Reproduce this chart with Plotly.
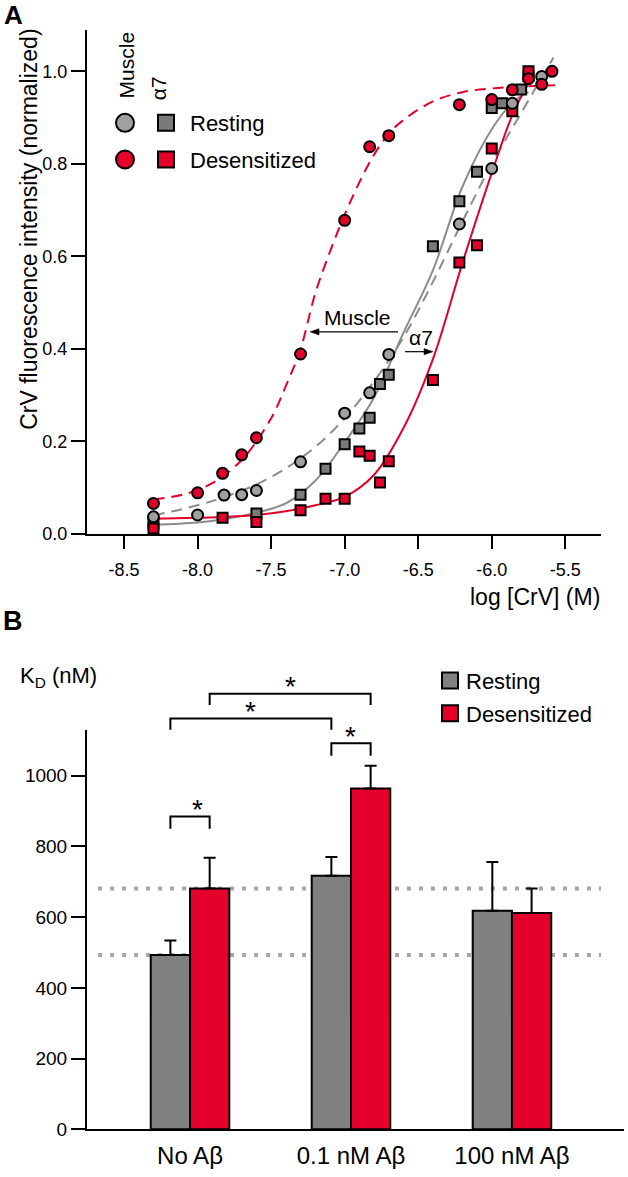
import plotly.graph_objects as go

# ---------- panel A data (log [CrV] in M, normalized fluorescence) ----------
muscle_rest_x = [-8.3, -8.0, -7.82, -7.7, -7.6, -7.3, -7.0, -6.83, -6.7, -6.22, -6.0, -5.86, -5.66]
muscle_rest_y = [0.037, 0.041, 0.084, 0.085, 0.094, 0.156, 0.261, 0.305, 0.388, 0.670, 0.790, 0.931, 0.989]

muscle_des_x = [-8.3, -8.0, -7.83, -7.7, -7.6, -7.3, -7.0, -6.83, -6.7, -6.22, -6.0, -5.86, -5.75, -5.66, -5.59]
muscle_des_y = [0.066, 0.089, 0.131, 0.171, 0.208, 0.389, 0.678, 0.837, 0.861, 0.928, 0.939, 0.960, 0.984, 0.972, 1.0]

a7_rest_x = [-8.3, -7.6, -7.3, -7.13, -7.0, -6.9, -6.83, -6.76, -6.7, -6.4, -6.22, -6.1, -6.0, -5.93, -5.8, -5.75]
a7_rest_y = [0.022, 0.044, 0.085, 0.141, 0.194, 0.228, 0.251, 0.324, 0.344, 0.622, 0.719, 0.783, 0.921, 0.931, 0.961, 0.99]

a7_des_x = [-8.3, -7.83, -7.6, -7.3, -7.13, -7.0, -6.9, -6.83, -6.76, -6.7, -6.4, -6.22, -6.1, -6.0, -5.86, -5.75]
a7_des_y = [0.012, 0.035, 0.026, 0.051, 0.076, 0.076, 0.178, 0.169, 0.111, 0.157, 0.333, 0.587, 0.624, 0.833, 0.914, 1.0]

# fitted curves
fit_mus_des_x = [-8.3, -8.1, -7.9, -7.7, -7.5, -7.4, -7.3, -7.2, -7.1, -7.0, -6.9, -6.8, -6.7, -6.6, -6.4, -6.2, -6.0, -5.8, -5.57]
fit_mus_des_y = [0.075, 0.085, 0.11, 0.16, 0.25, 0.32, 0.40, 0.52, 0.61, 0.69, 0.76, 0.82, 0.865, 0.895, 0.935, 0.955, 0.963, 0.967, 0.97]

fit_mus_rest_x = [-8.3, -8.0, -7.8, -7.6, -7.4, -7.2, -7.0, -6.8, -6.6, -6.4, -6.2, -6.0, -5.8, -5.58]
fit_mus_rest_y = [0.04, 0.062, 0.082, 0.107, 0.142, 0.188, 0.25, 0.33, 0.425, 0.545, 0.675, 0.80, 0.91, 1.03]

fit_a7_rest_x = [-8.3, -8.0, -7.8, -7.6, -7.4, -7.2, -7.0, -6.8, -6.6, -6.4, -6.2, -6.0, -5.85, -5.75]
fit_a7_rest_y = [0.02, 0.025, 0.033, 0.046, 0.066, 0.115, 0.198, 0.295, 0.435, 0.57, 0.75, 0.875, 0.935, 0.955]

fit_a7_des_x = [-8.3, -8.0, -7.8, -7.6, -7.4, -7.2, -7.0, -6.8, -6.6, -6.4, -6.2, -6.0, -5.85, -5.72]
fit_a7_des_y = [0.033, 0.035, 0.037, 0.041, 0.049, 0.062, 0.08, 0.128, 0.229, 0.378, 0.585, 0.78, 0.913, 0.99]

x_ticks_a = [-8.5, -8.0, -7.5, -7.0, -6.5, -6.0, -5.5]
y_ticks_a = [0.0, 0.2, 0.4, 0.6, 0.8, 1.0]

# ---------- panel B data (KD, nM) ----------
conditions = ["No Aβ", "0.1 nM Aβ", "100 nM Aβ"]
kd_rest = [493, 717, 618]
kd_rest_err = [41, 53, 138]
kd_des = [681, 964, 612]
kd_des_err = [87, 64, 69]
y_ticks_b = [0, 200, 400, 600, 800, 1000]

RED = "#E4002B"
GREY_LINE = "#8c8c8c"
GREY_CIRCLE = "#a0a0a0"
GREY_SQUARE = "#7a7a7a"
GREY_BAR = "#808080"
FONT = "Arial, Liberation Sans, sans-serif"

W, H = 628, 1177

# panel B geometry (pixels) and axis ranges
B_LEFT, B_RIGHT, B_BOTTOM, B_TOP = 87, 624, 1140, 736.7
B_XR = [-0.64, 2.696]
B_YR = [0, 1130]


def px(x):
    return x / W


def py(y):
    return 1 - y / H


def bx(v):
    return B_LEFT + (v - B_XR[0]) / (B_XR[1] - B_XR[0]) * (B_RIGHT - B_LEFT)


def by(v):
    return B_BOTTOM - (v - B_YR[0]) / (B_YR[1] - B_YR[0]) * (B_BOTTOM - B_TOP)


fig = go.Figure()

# fit curves
for xs, ys, col, dash in [
    (fit_mus_des_x, fit_mus_des_y, RED, "11px,7px"),
    (fit_mus_rest_x, fit_mus_rest_y, GREY_LINE, "11px,7px"),
    (fit_a7_rest_x, fit_a7_rest_y, GREY_LINE, "solid"),
    (fit_a7_des_x, fit_a7_des_y, RED, "solid"),
]:
    fig.add_trace(go.Scatter(x=xs, y=ys, mode="lines", line=dict(color=col, width=2, dash=dash, shape="spline"),
                             showlegend=False, hoverinfo="skip", xaxis="x", yaxis="y"))

# data points
for xs, ys, sym, fill, size in [
    (a7_rest_x, a7_rest_y, "square", GREY_SQUARE, 10),
    (a7_des_x, a7_des_y, "square", RED, 10),
    (muscle_rest_x, muscle_rest_y, "circle", GREY_CIRCLE, 11),
    (muscle_des_x, muscle_des_y, "circle", RED, 11),
]:
    fig.add_trace(go.Scatter(x=xs, y=ys, mode="markers",
                             marker=dict(symbol=sym, size=size, color=fill, line=dict(color="black", width=2)),
                             showlegend=False, xaxis="x", yaxis="y"))

# dotted reference lines (baseline KD values, No Abeta)
shapes = []
for ref in [kd_rest[0], kd_des[0]]:
    for x0, x1 in [(-0.571, 0.72), (1.273, 2.553)]:
        shapes.append(dict(type="line", xref="x2", yref="y2", x0=x0, x1=x1, y0=ref, y1=ref, layer="below",
                           line=dict(color="#a6a6a6", width=4, dash="4px,8px")))

# bars
fig.add_trace(go.Bar(x=[0, 1, 2], y=kd_rest, name="Resting", marker=dict(color=GREY_BAR, line=dict(color="black", width=2)),
                     error_y=dict(type="data", symmetric=False, array=kd_rest_err, arrayminus=[0, 0, 0],
                                  color="black", thickness=2, width=6),
                     showlegend=False, xaxis="x2", yaxis="y2"))
fig.add_trace(go.Bar(x=[0, 1, 2], y=kd_des, name="Desensitized", marker=dict(color=RED, line=dict(color="black", width=2)),
                     error_y=dict(type="data", symmetric=False, array=kd_des_err, arrayminus=[0, 0, 0],
                                  color="black", thickness=2, width=6),
                     showlegend=False, xaxis="x2", yaxis="y2"))

bargap = 0.512
off = (1 - bargap) / 4

# significance brackets: (left bar x, right bar x, top level, foot level), in panel B units
brackets = [
    (0 + off, 1 + off, 1232, 1200),
    (0 - off, 1 - off, 1162, 1130),
    (1 - off, 1 + off, 1092, 1057),
    (0 - off, 0 + off, 885, 850),
]
annotations = []
for xa, xb, top, foot in brackets:
    xa_p, xb_p = px(bx(xa)), px(bx(xb))
    top_p, foot_p = py(by(top)), py(by(foot))
    shapes.append(dict(type="path", xref="paper", yref="paper",
                       path=f"M {xa_p},{foot_p} L {xa_p},{top_p} L {xb_p},{top_p} L {xb_p},{foot_p}",
                       line=dict(color="black", width=2)))
    annotations.append(dict(x=(xa_p + xb_p) / 2, y=py(by(top) - 7), xref="paper", yref="paper", text="*",
                            showarrow=False, yanchor="middle",
                            font=dict(size=28, color="black", family=FONT)))


# legend glyphs
def glyph(kind, cx, cy, d, fill):
    shapes.append(dict(type=kind, xref="paper", yref="paper", xsizemode="pixel", ysizemode="pixel",
                       xanchor=px(cx), yanchor=py(cy), x0=-d / 2, x1=d / 2, y0=-d / 2, y1=d / 2,
                       fillcolor=fill, line=dict(color="black", width=2), layer="above"))


glyph("circle", 125, 124, 18, GREY_CIRCLE)
glyph("rect", 166, 124, 16, GREY_SQUARE)
glyph("circle", 125, 161, 18, RED)
glyph("rect", 166, 161, 16, RED)
glyph("rect", 450, 687, 16, GREY_BAR)
glyph("rect", 450, 720, 16, RED)


# arrows next to the curves (pixels: tail x, tip x, y)
def arrow(x_tail, x_tip, y):
    d = 1 if x_tip > x_tail else -1
    base = x_tip - d * 9
    shapes.append(dict(type="line", xref="paper", yref="paper", x0=px(x_tail), x1=px(base), y0=py(y), y1=py(y),
                       line=dict(color="black", width=1.2)))
    shapes.append(dict(type="path", xref="paper", yref="paper",
                       path=f"M {px(x_tip)},{py(y)} L {px(base)},{py(y - 3.2)} L {px(base)},{py(y + 3.2)} Z",
                       fillcolor="black", line=dict(color="black", width=0.5)))


arrow(398, 310, 335)
arrow(405, 433, 355)


def label(text, x, y, size, xanchor="center", angle=0):
    annotations.append(dict(text=text, x=px(x), y=py(y), xref="paper", yref="paper", showarrow=False,
                            xanchor=xanchor, yanchor="middle", textangle=angle,
                            font=dict(size=size, color="black", family=FONT)))


label("<b>A</b>", 13, 15, 26)
label("<b>B</b>", 13, 627, 27)
label("Muscle", 126, 66, 21, angle=-90)
label("α7", 158, 89, 21, angle=-90)
label("Resting", 188, 125, 22, xanchor="left")
label("Desensitized", 188, 162, 22, xanchor="left")
label("CrV fluorescence intensity (normalized)", 29, 232, 23, angle=-90)
label("log [CrV] (M)", 602, 603, 23, xanchor="right")
label("K<sub>D</sub> (nM)", 18, 683, 22, xanchor="left")
label("Resting", 464, 688, 22, xanchor="left")
label("Desensitized", 464, 721, 22, xanchor="left")
label("Muscle", 357, 320, 21)
label("α7", 421, 341, 21)

axis_style = dict(showline=True, linecolor="black", linewidth=2, showgrid=False, zeroline=False,
                  ticks="outside", tickcolor="black", tickwidth=2)

fig.update_layout(
    width=W, height=H, autosize=False,
    margin=dict(l=0, r=0, t=0, b=0),
    paper_bgcolor="white", plot_bgcolor="rgba(0,0,0,0)",
    font=dict(family=FONT, color="black"),
    barmode="group", bargap=bargap, bargroupgap=0,
    showlegend=False,
    xaxis=dict(domain=[px(87), px(601)], range=[-8.752, -5.257], anchor="y",
               tickvals=x_ticks_a, ticktext=[f"{v:.1f}" for v in x_ticks_a], ticklen=13,
               tickfont=dict(size=18), ticklabelstandoff=5, **axis_style),
    yaxis=dict(domain=[py(539), py(30)], range=[0, 1.09], anchor="x",
               tickvals=y_ticks_a, ticktext=[f"{v:.1f}" for v in y_ticks_a], ticklen=14,
               tickfont=dict(size=18), **axis_style),
    xaxis2=dict(domain=[px(B_LEFT), px(B_RIGHT)], range=B_XR, anchor="y2",
                tickvals=[0, 1, 2], ticktext=conditions, showline=True, linecolor="black", linewidth=2,
                showgrid=False, zeroline=False, ticks="", tickfont=dict(size=24), ticklabelstandoff=4),
    yaxis2=dict(domain=[py(B_BOTTOM), py(B_TOP)], range=B_YR, anchor="x2",
                tickvals=y_ticks_b, ticklen=14, tickfont=dict(size=19), **axis_style),
    shapes=shapes,
    annotations=annotations,
)

# drop the default 8px page margin so the figure sits at the window's corner
fig.write_html("out.html", config={"displayModeBar": False},
               post_script="document.body.style.margin='0';document.body.style.overflow='hidden';")
